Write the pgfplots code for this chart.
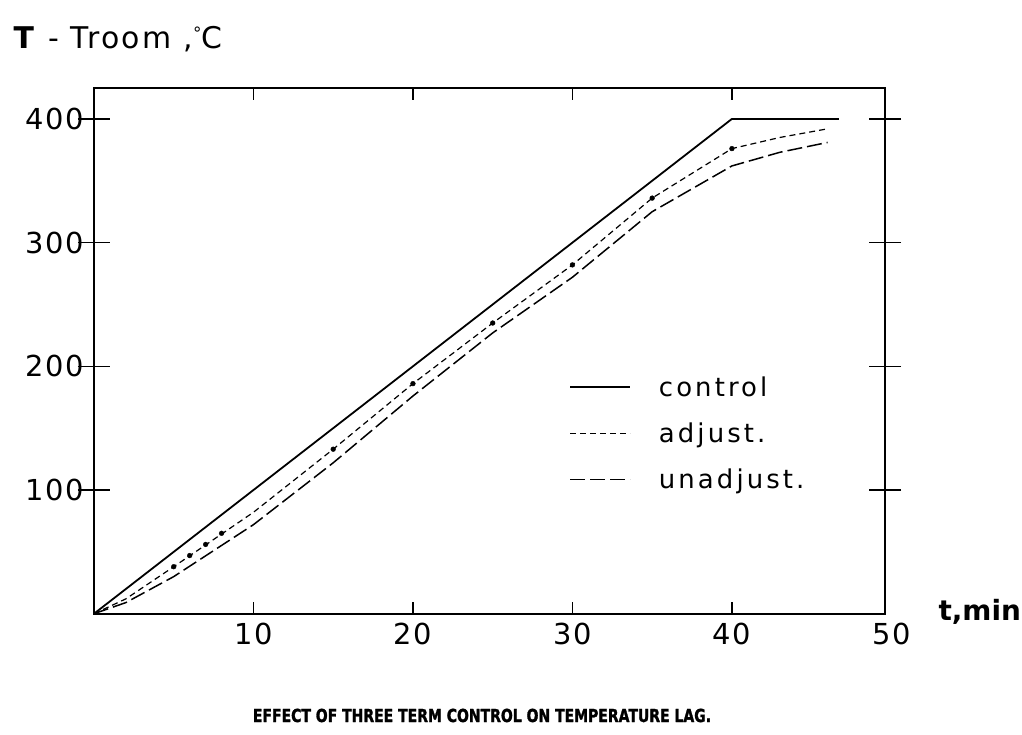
\documentclass[border=0pt]{standalone}
\usepackage{fontspec}
\setmainfont{DejaVu Sans}
\newfontfamily\titlefont{DejaVu Sans}[FakeStretch=0.78,FakeBold=1.5]
\usepackage{pgfplots}
\pgfplotsset{compat=1.18}
\pgfplotstableread{
t T
0 0
40 400
46.7 400
}\control
\pgfplotstableread{
t T
0 0
2 12
5 38
10 82
15 133
20 186
25 235
30 282
35 336
40 376
43 385
46 392
}\adjust
\pgfplotstableread{
t T
0 0
2 9
5 30
10 72
15 122
20 176
25 227
30 272
35 325
40 362
43 373
46 381
}\unadjust
\pgfplotstableread{
t T
5 38
6 47
7 56
8 65
15 133
20 186
25 235
30 282
35 336
40 376
}\adjustdots
\begin{document}
\begin{tikzpicture}
\begin{axis}[
  at={(94bp,-613.7bp)}, anchor=origin,
  scale only axis, width=791bp, height=525.7bp,
  xmin=0, xmax=49.6, ymin=0, ymax=425,
  clip=false,
  axis line style={line width=1.8bp},
  xtick={10,20,30,40}, ytick={100,200,300,400},
  xtick align=inside, ytick align=center,
  every tick/.style={black, line width=1.4bp},
  xtick style={/pgfplots/major tick length=12bp},
  ytick style={/pgfplots/major tick length=32bp},
  /pgf/number format/assume math mode=true,
  tick label style={font=\fontsize{29}{32}\selectfont\addfontfeature{LetterSpace=6}},
  xticklabel style={yshift=-6bp},
  yticklabel style={xshift=-4bp},
  legend style={draw=none, fill=none, at={(axis cs:29.6,195)}, anchor=north west,
    font=\fontsize{26}{30}\selectfont\addfontfeature{LetterSpace=12},
    row sep=21bp, legend cell align=left},
  legend image code/.code={\draw[#1, line width=1.6bp] (0bp,0bp) -- (60bp,0bp); \path (86bp,0bp);},
]
\addplot[black, line width=1.8bp] table[x=t,y=T] {\control};
\addlegendentry{control}
\addplot[black, line width=1.2bp, dash pattern=on 6bp off 4bp] table[x=t,y=T] {\adjust};
\addlegendentry{adjust.}
\addplot[black, line width=1.5bp, dash pattern=on 15bp off 5bp] table[x=t,y=T] {\unadjust};
\addlegendentry{unadjust.}
\addplot[only marks, mark=*, mark size=2.4bp, black, forget plot] table[x=t,y=T] {\adjustdots};
\node[anchor=north, font=\fontsize{29}{32}\selectfont\addfontfeature{LetterSpace=6}, yshift=-6bp] at (axis cs:50,0) {50};
\end{axis}
\node[anchor=base west, font=\fontsize{30}{32}\selectfont\addfontfeature{LetterSpace=8}] at (10bp,-48bp) {\textbf{T} - Troom ,\raisebox{0.3em}{\fontsize{17}{18}\selectfont\textdegree}C};
\node[anchor=base west, font=\fontsize{28}{30}\selectfont\bfseries] at (935bp,-620bp) {t,min};
\node[anchor=base, font=\titlefont\bfseries\fontsize{18}{20}\selectfont] at (482bp,-722bp) {EFFECT OF THREE TERM CONTROL ON TEMPERATURE LAG.};
\pgfresetboundingbox
\useasboundingbox (0bp,0bp) rectangle (1022bp,-735bp);
\end{tikzpicture}
\end{document}
